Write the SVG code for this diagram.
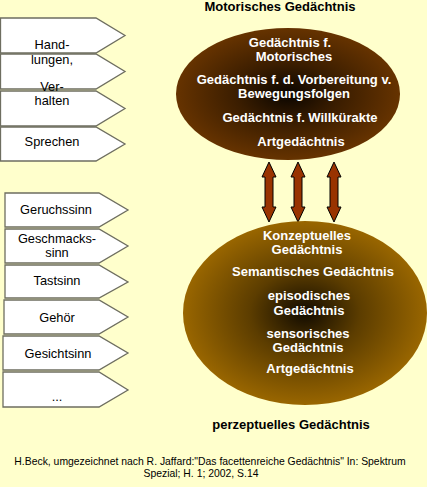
<svg xmlns="http://www.w3.org/2000/svg" width="427" height="487" viewBox="0 0 427 487">
<style>
.bg{fill:#FFFFCC}
.tag{fill:#FFFFFF;stroke:#6e6e60;stroke-width:1.3}
.lt{font-family:"Liberation Sans",Arial,sans-serif;font-size:12.8px;fill:#000;text-anchor:middle}
.et{font-family:"Liberation Sans",Arial,sans-serif;font-size:13px;font-weight:bold;fill:#FFFFFF;text-anchor:middle}
.tt{font-family:"Liberation Sans",Arial,sans-serif;font-size:13px;font-weight:bold;fill:#000;text-anchor:middle}
.ft{font-family:"Liberation Sans",Arial,sans-serif;font-size:10.4px;fill:#000;text-anchor:middle}
.arr{fill:#993300;stroke:#000;stroke-width:1}
</style>
<defs>
<radialGradient id="gTop" cx="0.5" cy="0.5" r="0.5">
<stop offset="0" stop-color="#0a0500"/>
<stop offset="0.45" stop-color="#3a1d00"/>
<stop offset="1" stop-color="#663300"/>
</radialGradient>
<radialGradient id="gBot" cx="0.5" cy="0.5" r="0.5">
<stop offset="0" stop-color="#120b00"/>
<stop offset="0.45" stop-color="#5c3d00"/>
<stop offset="1" stop-color="#996600"/>
</radialGradient>
<path id="dbl" d="M0,-30 L7,-15 L4,-15 L4,15 L7,15 L0,30 L-7,15 L-4,15 L-4,-15 L-7,-15 Z"/>
</defs>
<rect class="bg" x="0" y="0" width="427" height="487"/>

<g id="motor-tags">
<polygon class="tag" points="0.5,18 96,18 125,35.5 96,53 0.5,53"/>
<polygon class="tag" points="0.5,54 96,54 125,71.5 96,89 0.5,89"/>
<polygon class="tag" points="0.5,91 96,91 125,108.5 96,126 0.5,126"/>
<polygon class="tag" points="0.5,127 96,127 125,144 96,161 0.5,161"/>
<text class="lt" x="52" y="49">Hand-</text>
<text class="lt" x="52" y="64">lungen,</text>
<text class="lt" x="52" y="91">Ver-</text>
<text class="lt" x="52" y="105">halten</text>
<text class="lt" x="52" y="146">Sprechen</text>
</g>

<g id="sense-tags">
<polygon class="tag" points="5,193 99,193 128,210 99,227 5,227"/>
<polygon class="tag" points="5,229 99,229 128,246 99,263 5,263"/>
<polygon class="tag" points="5,265 99,265 128,282 99,298 5,298"/>
<polygon class="tag" points="4,300 99,300 128,317 99,334 4,334"/>
<polygon class="tag" points="3,336 99,336 128,353 99,370 3,370"/>
<polygon class="tag" points="3,372 99,372 128,390 99,407 3,407"/>
<text class="lt" x="56" y="214">Geruchssinn</text>
<text class="lt" x="57" y="243">Geschmacks-</text>
<text class="lt" x="57" y="257">sinn</text>
<text class="lt" x="57" y="285">Tastsinn</text>
<text class="lt" x="57" y="322">Gehör</text>
<text class="lt" x="58" y="358">Gesichtsinn</text>
<text class="lt" x="57" y="401">...</text>
</g>

<g id="motor-memory">
<text class="tt" x="280" y="11">Motorisches Gedächtnis</text>
<ellipse cx="288" cy="94" rx="112" ry="66" fill="url(#gTop)"/>
<text class="et" x="290" y="47">Gedächtnis f.</text>
<text class="et" x="294" y="61">Motorisches</text>
<text class="et" x="294" y="84">Gedächtnis f. d. Vorbereitung v.</text>
<text class="et" x="294" y="98">Bewegungsfolgen</text>
<text class="et" x="300" y="122">Gedächtnis f. Willkürakte</text>
<text class="et" x="301" y="146">Artgedächtnis</text>
</g>

<g id="connectors">
<use href="#dbl" class="arr" x="269" y="192"/>
<use href="#dbl" class="arr" x="298" y="192"/>
<use href="#dbl" class="arr" x="334" y="192"/>
</g>

<g id="perceptual-memory">
<ellipse cx="305" cy="313" rx="122" ry="92" fill="url(#gBot)"/>
<text class="et" x="307" y="240">Konzeptuelles</text>
<text class="et" x="307" y="254">Gedächtnis</text>
<text class="et" x="313" y="276">Semantisches Gedächtnis</text>
<text class="et" x="309" y="300">episodisches</text>
<text class="et" x="309" y="315">Gedächtnis</text>
<text class="et" x="308" y="338">sensorisches</text>
<text class="et" x="308" y="352">Gedächtnis</text>
<text class="et" x="310" y="373">Artgedächtnis</text>
<text class="tt" x="291" y="429">perzeptuelles Gedächtnis</text>
</g>

<g id="source">
<text class="ft" x="210" y="465">H.Beck, umgezeichnet nach R. Jaffard:"Das facettenreiche Gedächtnis" In: Spektrum</text>
<text class="ft" x="201" y="477">Spezial; H. 1; 2002, S.14</text>
</g>
</svg>
